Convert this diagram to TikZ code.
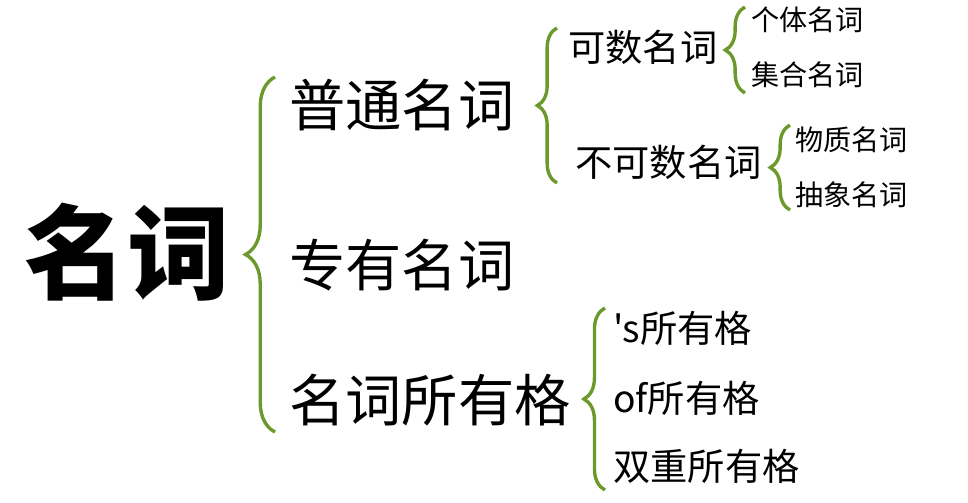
\documentclass[tikz,border=0pt]{standalone}
\usepackage{fontspec}
\newfontfamily\cjk{Noto Sans CJK SC}
\usepackage{xcolor}
\usetikzlibrary{positioning,calc,decorations.pathreplacing}
\definecolor{bracegreen}{rgb}{0.42,0.60,0.17}

\begin{document}
\begin{tikzpicture}[
  x=0.025cm, y=-0.025cm,
  brc/.style={decorate, decoration={brace, amplitude=#1}, draw=bracegreen, line width=2.4pt},
  term/.style={anchor=west, inner sep=0pt},
  big/.style={term, font=\cjk\fontsize{40}{44}\selectfont},
  mid/.style={term, font=\cjk\fontsize{26.5}{30}\selectfont},
  small/.style={term, font=\cjk\fontsize{20}{24}\selectfont}
]
\useasboundingbox (0,0) rectangle (968,502);

% title
\node[inner sep=0pt, font=\cjk\bfseries\fontsize{73}{80}\selectfont] (mingci) at (127,252) {名词};

% first level
\node[big] (putong)   at (289,105) {普通名词};
\node[big] (zhuanyou) at (289,265) {专有名词};
\node[big] (suoyouge) at (289,400) {名词所有格};

% second level
\node[mid] (keshu)   at (568,47)  {可数名词};
\node[mid] (bukeshu) at (575,162) {不可数名词};

% third level
\node[small] (geti)      at (751,20)  {个体名词};
\node[small] (jihe)      at (751,75)  {集合名词};
\node[small] (wuzhi)     at (795,140) {物质名词};
\node[small] (chouxiang) at (795,195) {抽象名词};

% possessive cases
\node[mid] (sge)         at (613,328) {'s所有格};
\node[mid] (ofge)        at (613,398) {of所有格};
\node[mid] (shuangchong) at (613,466) {双重所有格};

% braces (drawn bottom -> top so the tip points left)
\draw[brc=21pt] (275,432) -- (275,77);
\draw[brc=14pt] (557,183) -- (557,28);
\draw[brc=14pt] (745,93)  -- (745,7);
\draw[brc=14pt] (790,210) -- (790,125);
\draw[brc=15pt] (605,490) -- (605,308);
\end{tikzpicture}
\end{document}
